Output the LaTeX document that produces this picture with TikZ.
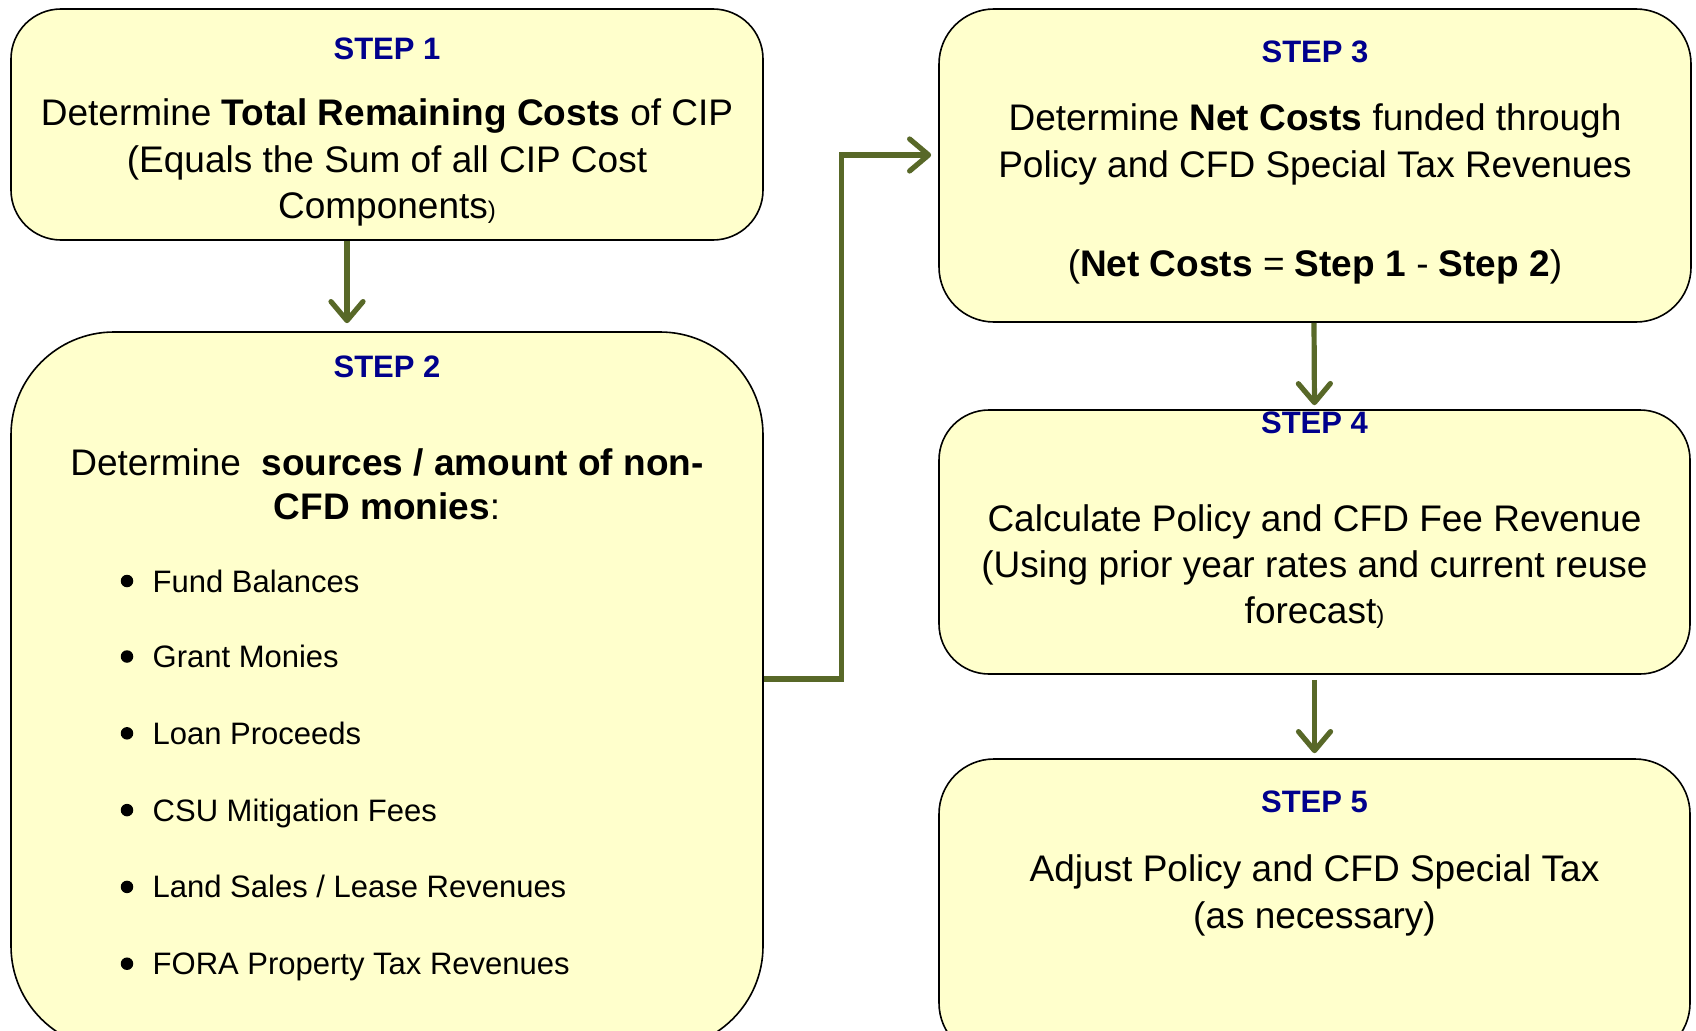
\documentclass[tikz,border=0pt]{standalone}
\usepackage{fontspec}
\setmainfont{Liberation Sans}
\usetikzlibrary{arrows.meta}
\definecolor{boxfill}{HTML}{FFFFCC}
\definecolor{stepblue}{RGB}{0,0,140}
\definecolor{arrowgreen}{RGB}{88,104,40}
\newcommand{\bodyfont}{\fontsize{37}{44}\selectfont}
\newcommand{\bulfont}{\fontsize{31}{37}\selectfont}
\newcommand{\smallparen}{{\fontsize{24}{28}\selectfont)}}
\tikzset{
  stepbox/.style={draw=black, line width=1.6pt, fill=boxfill, inner sep=0pt, rectangle},
  steplabel/.style={anchor=base, inner sep=0pt, text=stepblue, font=\fontsize{31}{37}\selectfont\bfseries},
  bodyline/.style={anchor=base, inner sep=0pt, font=\bodyfont},
  bulline/.style={anchor=base west, inner sep=0pt, font=\bulfont},
  bulletdot/.style={circle, fill=black, inner sep=0pt, minimum size=12.5pt},
  flowarrow/.style={draw=arrowgreen, line width=5.2pt, line join=miter,
    -{Straight Barb[length=19pt, width=32pt, line width=5.2pt, line cap=round, line join=round]}}
}
\begin{document}
\begin{tikzpicture}[x=1pt, y=-1pt]
\useasboundingbox (0,0) rectangle (1696,1030);
\clip (0,0) rectangle (1696,1030);

% boxes
\node[stepbox, rounded corners=50pt, minimum width=752pt, minimum height=231pt] (b1) at (387,124.5) {};
\node[stepbox, rounded corners=103pt, minimum width=752pt, minimum height=717pt] (b2) at (387,690.5) {};
\node[stepbox, rounded corners=55pt, minimum width=752pt, minimum height=313pt] (b3) at (1315,165.5) {};
\node[stepbox, rounded corners=50pt, minimum width=751pt, minimum height=264pt] (b4) at (1314.5,542) {};
\node[stepbox, rounded corners=55pt, minimum width=751pt, minimum height=299pt] (b5) at (1314.5,908.5) {};

% step 1
\node[steplabel] (s1) at (387,60) {STEP 1};
\node[bodyline] (t1a) at (387,125.5) {Determine \textbf{Total Remaining Costs} of CIP};
\node[bodyline] (t1b) at (387,172) {(Equals the Sum of all CIP Cost};
\node[bodyline] (t1c) at (387,218.5) {Components\smallparen};

% step 2
\node[steplabel] (s2) at (387,377) {STEP 2};
\node[bodyline] (t2a) at (387,475) {Determine\ \ \textbf{sources / amount of non-}};
\node[bodyline] (t2b) at (387,519) {\textbf{CFD monies}:};
\node[bulletdot] (d1) at (127,581) {};
\node[bulline] (l1) at (152.5,592) {Fund Balances};
\node[bulletdot] (d2) at (127,656.5) {};
\node[bulline] (l2) at (152.5,667.5) {Grant Monies};
\node[bulletdot] (d3) at (127,733.3) {};
\node[bulline] (l3) at (152.5,744.3) {Loan Proceeds};
\node[bulletdot] (d4) at (127,810.1) {};
\node[bulline] (l4) at (152.5,821.1) {CSU Mitigation Fees};
\node[bulletdot] (d5) at (127,886.9) {};
\node[bulline] (l5) at (152.5,897.9) {Land Sales / Lease Revenues};
\node[bulletdot] (d6) at (127,963.7) {};
\node[bulline] (l6) at (152.5,974.7) {FORA Property Tax Revenues};

% step 3
\node[steplabel] (s3) at (1315,63) {STEP 3};
\node[bodyline] (t3a) at (1315,131) {Determine \textbf{Net Costs} funded through};
\node[bodyline] (t3b) at (1315,177.5) {Policy and CFD Special Tax Revenues};
\node[bodyline] (t3c) at (1315,276) {(\textbf{Net Costs} = \textbf{Step 1} - \textbf{Step 2})};

% step 4
\node[steplabel] (s4) at (1314.5,433) {STEP 4};
\node[bodyline] (t4a) at (1314.5,531) {Calculate Policy and CFD Fee Revenue};
\node[bodyline] (t4b) at (1314.5,577.5) {(Using prior year rates and current reuse};
\node[bodyline] (t4c) at (1314.5,623) {forecast\smallparen};

% step 5
\node[steplabel] (s5) at (1314.5,812.5) {STEP 5};
\node[bodyline] (t5a) at (1314.5,881.5) {Adjust Policy and CFD Special Tax};
\node[bodyline] (t5b) at (1314.5,928) {(as necessary)};

% connectors
\coordinate (elbow) at (841.5,400);
\draw[flowarrow, shorten >=8pt] ([xshift=-40pt]b1.south) -- ([xshift=-40pt]b2.north);
\draw[flowarrow, shorten >=7pt] ([yshift=11.5pt]b2.east) -| (elbow) |- ([yshift=10.5pt]b3.west);
\draw[flowarrow, shorten >=4pt] ([xshift=-1pt]b3.south) -- (b4.north);
\draw[flowarrow, shorten <=5pt, shorten >=5pt] (b4.south) -- (b5.north);
\end{tikzpicture}
\end{document}
